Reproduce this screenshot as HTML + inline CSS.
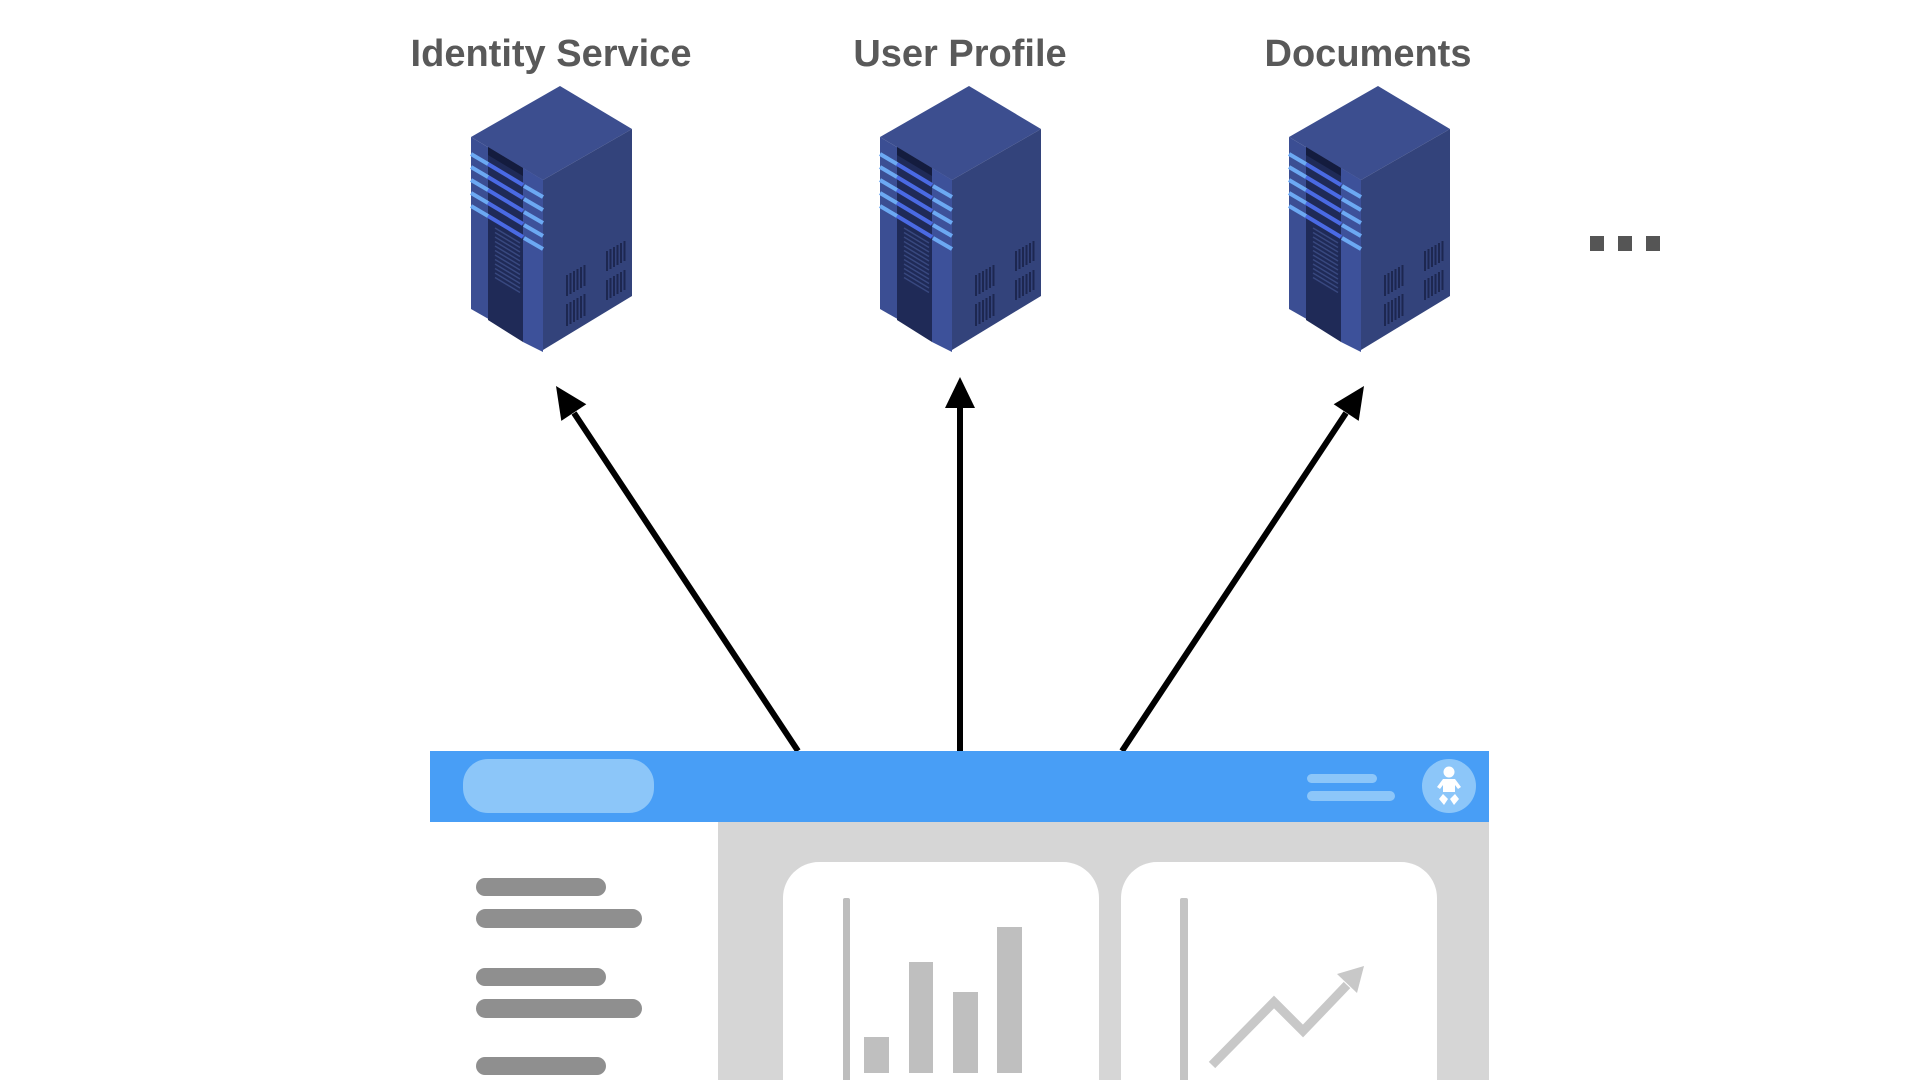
<!DOCTYPE html>
<html>
<head>
<meta charset="utf-8">
<style>
  html, body { margin: 0; padding: 0; background: #ffffff; }
  body { width: 1920px; height: 1080px; overflow: hidden; }
  svg { display: block; }
</style>
</head>
<body>
<svg width="1920" height="1080" viewBox="0 0 1920 1080" xmlns="http://www.w3.org/2000/svg">
  <rect x="0" y="0" width="1920" height="1080" fill="#ffffff"/>

  <defs>
    <g id="srv">
      <!-- faces -->
      <polygon points="471,137 560,86 632,129 543,180" fill="#3c4e8f"/>
      <polygon points="471,137 543,180 543,350 471,309" fill="#3b4e93"/>
      <polygon points="543,180 632,129 632,296 543,350" fill="#33437b"/>
      <!-- recessed channel -->
      <polygon points="488,147 523,168 523,342 488,320" fill="#1f2a57"/>
      <polygon points="488,147 523,168 523,176 488,155" fill="#141c3e"/>
      <!-- right pillar foot -->
      <polygon points="523,168 543,180 543,352 523,342" fill="#3d519a"/>
      <!-- grille in channel -->
      <g stroke="#38487f" stroke-width="1.5">
        <line x1="495" y1="228" x2="520" y2="243"/>
        <line x1="495" y1="232.5" x2="520" y2="247.5"/>
        <line x1="495" y1="237" x2="520" y2="252"/>
        <line x1="495" y1="241.5" x2="520" y2="256.5"/>
        <line x1="495" y1="246" x2="520" y2="261"/>
        <line x1="495" y1="250.5" x2="520" y2="265.5"/>
        <line x1="495" y1="255" x2="520" y2="270"/>
        <line x1="495" y1="259.5" x2="520" y2="274.5"/>
        <line x1="495" y1="264" x2="520" y2="279"/>
        <line x1="495" y1="268.5" x2="520" y2="283.5"/>
        <line x1="495" y1="273" x2="520" y2="288"/>
        <line x1="495" y1="277.5" x2="520" y2="292.5"/>
      </g>
      <!-- stripes: channel part (medium blue) -->
      <g stroke="#4a6ae4" stroke-width="4">
        <line x1="488" y1="164" x2="523" y2="185"/>
        <line x1="488" y1="177" x2="523" y2="198"/>
        <line x1="488" y1="190" x2="523" y2="211"/>
        <line x1="488" y1="203" x2="523" y2="224"/>
        <line x1="488" y1="216" x2="523" y2="237"/>
      </g>
      <!-- stripes: pillars (light blue) -->
      <g stroke="#6ca9f3" stroke-width="4">
        <line x1="471" y1="154" x2="488" y2="164"/>
        <line x1="471" y1="167" x2="488" y2="177"/>
        <line x1="471" y1="180" x2="488" y2="190"/>
        <line x1="471" y1="193" x2="488" y2="203"/>
        <line x1="471" y1="206" x2="488" y2="216"/>
        <line x1="524" y1="186" x2="543" y2="197"/>
        <line x1="524" y1="199" x2="543" y2="210"/>
        <line x1="524" y1="212" x2="543" y2="223"/>
        <line x1="524" y1="225" x2="543" y2="236"/>
        <line x1="524" y1="238" x2="543" y2="249"/>
      </g>
      <!-- vents on right face -->
      <g stroke="#1d2750" stroke-width="2">
        <line x1="567" y1="275" x2="567" y2="296"/>
        <line x1="570.5" y1="273" x2="570.5" y2="294"/>
        <line x1="574" y1="271" x2="574" y2="292"/>
        <line x1="577.5" y1="269" x2="577.5" y2="290"/>
        <line x1="581" y1="267" x2="581" y2="288"/>
        <line x1="584.5" y1="265" x2="584.5" y2="286"/>

        <line x1="567" y1="304" x2="567" y2="326"/>
        <line x1="570.5" y1="302" x2="570.5" y2="324"/>
        <line x1="574" y1="300" x2="574" y2="322"/>
        <line x1="577.5" y1="298" x2="577.5" y2="320"/>
        <line x1="581" y1="296" x2="581" y2="318"/>
        <line x1="584.5" y1="294" x2="584.5" y2="316"/>

        <line x1="607" y1="251" x2="607" y2="271"/>
        <line x1="610.5" y1="249" x2="610.5" y2="269"/>
        <line x1="614" y1="247" x2="614" y2="267"/>
        <line x1="617.5" y1="245" x2="617.5" y2="265"/>
        <line x1="621" y1="243" x2="621" y2="263"/>
        <line x1="624.5" y1="241" x2="624.5" y2="261"/>

        <line x1="607" y1="280" x2="607" y2="300"/>
        <line x1="610.5" y1="278" x2="610.5" y2="298"/>
        <line x1="614" y1="276" x2="614" y2="296"/>
        <line x1="617.5" y1="274" x2="617.5" y2="294"/>
        <line x1="621" y1="272" x2="621" y2="292"/>
        <line x1="624.5" y1="270" x2="624.5" y2="290"/>
      </g>
    </g>
  </defs>

  <!-- Labels -->
  <g font-family="'Liberation Sans', Arial, sans-serif" font-weight="bold" font-size="38" fill="#595959" text-anchor="middle">
    <text x="551" y="66">Identity Service</text>
    <text x="960" y="66">User Profile</text>
    <text x="1368" y="66">Documents</text>
  </g>

  <!-- Servers -->
  <use href="#srv"/>
  <use href="#srv" transform="translate(409,0)"/>
  <use href="#srv" transform="translate(818,0)"/>

  <!-- Ellipsis -->
  <rect x="1590" y="236" width="14" height="15" fill="#555555"/>
  <rect x="1618" y="236" width="14" height="15" fill="#555555"/>
  <rect x="1646" y="236" width="14" height="15" fill="#555555"/>

  <!-- Arrows -->
  <g stroke="#000000" stroke-width="6" fill="none">
    <line x1="798" y1="751" x2="574" y2="413"/>
    <line x1="960" y1="751" x2="960" y2="405"/>
    <line x1="1122" y1="751" x2="1346" y2="413"/>
  </g>
  <g fill="#000000">
    <polygon points="556,386 586.3,404.3 561.3,420.9"/>
    <polygon points="960,377 975,408 945,408"/>
    <polygon points="1364,386 1333.7,404.3 1358.7,420.9"/>
  </g>

  <!-- App mockup -->
  <rect x="430" y="751" width="1059" height="71" fill="#489ef6"/>
  <rect x="463" y="759" width="191" height="54" rx="25" ry="25" fill="#8cc6f9"/>
  <rect x="1307" y="774" width="70" height="9" rx="4.5" fill="#8cc6f9"/>
  <rect x="1307" y="791" width="88" height="10" rx="5" fill="#8cc6f9"/>
  <circle cx="1449" cy="786" r="27" fill="#8cc6f9"/>
  <!-- baby figure -->
  <g fill="#ffffff">
    <circle cx="1449" cy="772" r="5.5"/>
    <path d="M1443,779 L1455,779 L1461,787 L1458,789 L1455,785 L1455,792 L1443,792 L1443,785 L1440,789 L1437,787 Z"/>
    <polygon points="1443,794 1448,799 1444,805 1439,799"/>
    <polygon points="1455,794 1459,799 1454,805 1450,799"/>
  </g>

  <rect x="718" y="822" width="771" height="258" fill="#d6d6d6"/>

  <!-- sidebar lines -->
  <g fill="#8f8f8f">
    <rect x="476" y="878" width="130" height="18" rx="9"/>
    <rect x="476" y="909" width="166" height="19" rx="9.5"/>
    <rect x="476" y="968" width="130" height="18" rx="9"/>
    <rect x="476" y="999" width="166" height="19" rx="9.5"/>
    <rect x="476" y="1057" width="130" height="18" rx="9"/>
  </g>

  <!-- cards -->
  <rect x="783" y="862" width="316" height="260" rx="36" ry="36" fill="#ffffff"/>
  <rect x="1121" y="862" width="316" height="260" rx="36" ry="36" fill="#ffffff"/>

  <!-- bar chart -->
  <rect x="843" y="898" width="7" height="190" rx="2" fill="#bdbdbd"/>
  <g fill="#bfbfbf">
    <rect x="864" y="1037" width="25" height="36"/>
    <rect x="909" y="962" width="24" height="111"/>
    <rect x="953" y="992" width="25" height="81"/>
    <rect x="997" y="927" width="25" height="146"/>
  </g>

  <!-- line chart -->
  <rect x="1180" y="898" width="8" height="190" rx="2" fill="#c4c4c4"/>
  <polyline points="1212,1065 1274,1002 1303,1031 1347,985" fill="none" stroke="#c8c8c8" stroke-width="9" stroke-linejoin="miter"/>
  <polygon points="1364,966 1337,974 1357,993" fill="#c8c8c8"/>
</svg>
</body>
</html>
